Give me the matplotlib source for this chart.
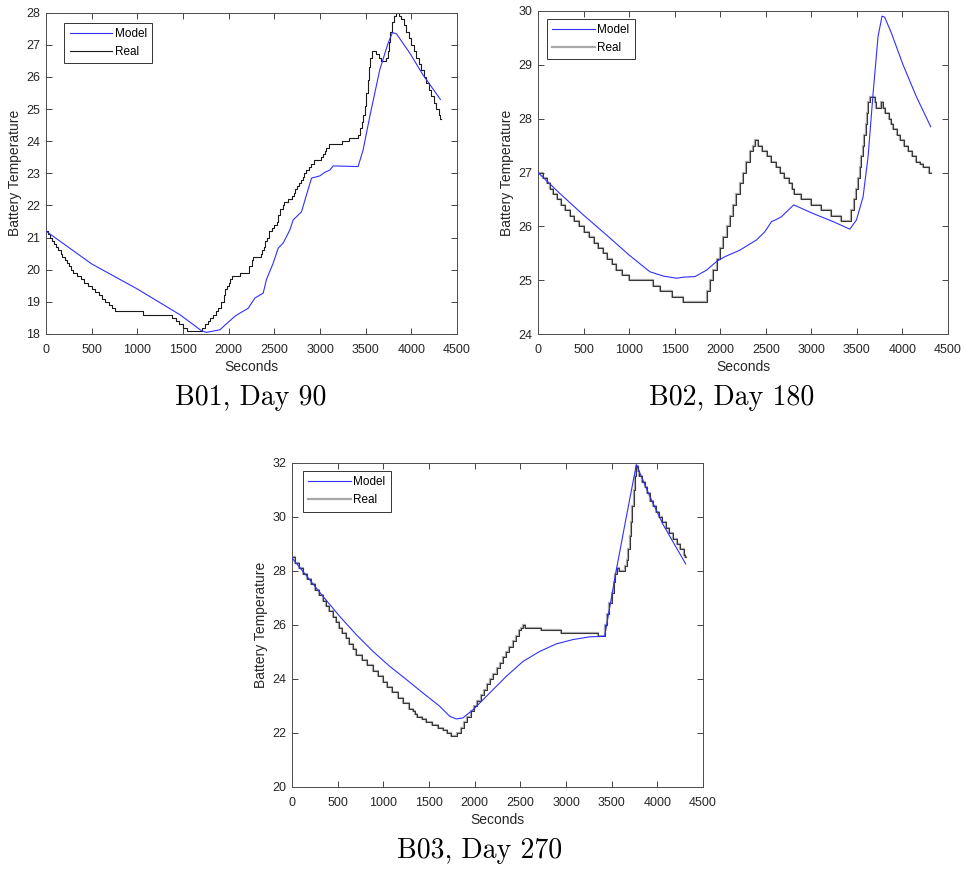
import numpy as np
import matplotlib
matplotlib.use("Agg")
import matplotlib.pyplot as plt

# ---- B01, Day 90 ----
b01_model_t = [0, 500, 1000, 1466, 1703, 1758, 1904, 1977, 2068, 2123, 2214, 2287, 2378, 2414, 2487,
               2542, 2597, 2670, 2706, 2797, 2852, 2907, 2998, 3052, 3107, 3144, 3417, 3472, 3545,
               3654, 3745, 3793, 3837, 3983, 4128, 4318]
b01_model_T = [21.2, 20.18, 19.4, 18.6, 18.1, 18.05, 18.13, 18.32, 18.55, 18.65, 18.8, 19.12, 19.27,
               19.7, 20.2, 20.67, 20.83, 21.24, 21.55, 21.8, 22.33, 22.85, 22.92, 23.03, 23.1, 23.23,
               23.21, 23.73, 24.77, 26.22, 27.05, 27.38, 27.34, 26.74, 26.06, 25.3]
b01_real_t = [0, 25, 45, 70, 90, 115, 135, 160, 180, 205, 230, 255, 275, 300, 340, 380, 420, 460,
              500, 540, 575, 610, 650, 690, 720, 755, 1065, 1375, 1420, 1460, 1500, 1540, 1705,
              1740, 1770, 1800, 1830, 1860, 1880, 1920, 1945, 1965, 1985, 2000, 2015, 2040, 2125,
              2220, 2250, 2265, 2350, 2370, 2385, 2400, 2420, 2440, 2470, 2500, 2525, 2545, 2565,
              2590, 2610, 2650, 2690, 2710, 2730, 2745, 2770, 2790, 2810, 2830, 2850, 2875, 2900,
              2930, 3010, 3030, 3050, 3070, 3100, 3240, 3320, 3420, 3440, 3460, 3475, 3490, 3505,
              3520, 3535, 3550, 3570, 3610, 3650, 3670, 3720, 3740, 3755, 3770, 3785, 3805, 3830,
              3870, 3890, 3915, 3945, 3970, 4000, 4030, 4055, 4085, 4110, 4140, 4165, 4195, 4220,
              4250, 4275, 4300, 4315, 4320]
b01_real_T = [21.2, 21.1, 21.0, 20.9, 20.8, 20.7, 20.6, 20.5, 20.4, 20.3, 20.2, 20.1, 20.0, 19.9,
              19.8, 19.7, 19.6, 19.5, 19.4, 19.3, 19.2, 19.1, 19.0, 18.9, 18.8, 18.7, 18.6, 18.5,
              18.4, 18.3, 18.2, 18.1, 18.2, 18.3, 18.4, 18.5, 18.6, 18.7, 18.8, 19.0, 19.2, 19.4,
              19.5, 19.6, 19.7, 19.8, 19.9, 20.1, 20.3, 20.4, 20.5, 20.6, 20.7, 20.9, 21.0, 21.2,
              21.3, 21.4, 21.5, 21.7, 21.9, 22.0, 22.1, 22.2, 22.3, 22.4, 22.5, 22.6, 22.7, 22.8,
              22.9, 23.0, 23.1, 23.2, 23.3, 23.4, 23.5, 23.6, 23.7, 23.8, 23.9, 24.0, 24.1, 24.2,
              24.4, 24.6, 24.8, 25.1, 25.5, 25.9, 26.3, 26.6, 26.8, 26.7, 26.6, 26.5, 26.6, 26.8,
              27.1, 27.4, 27.7, 27.9, 28.0, 27.9, 27.8, 27.6, 27.4, 27.2, 27.0, 26.8, 26.6, 26.4,
              26.2, 26.0, 25.8, 25.6, 25.4, 25.2, 25.0, 24.8, 24.7, 24.7]

# ---- B02, Day 180 ----
b02_model_t = [0, 241, 500, 753, 1000, 1228, 1375, 1521, 1594, 1722, 1850, 1959, 2051, 2215, 2398,
               2489, 2563, 2617, 2672, 2745, 2807, 3019, 3239, 3422, 3495, 3568, 3623, 3678, 3732,
               3776, 3805, 3878, 4006, 4152, 4310]
b02_model_T = [27.0, 26.61, 26.21, 25.84, 25.47, 25.16, 25.08, 25.04, 25.06, 25.07, 25.19, 25.35,
               25.44, 25.56, 25.75, 25.9, 26.09, 26.13, 26.18, 26.3, 26.4, 26.24, 26.09, 25.95,
               26.12, 26.55, 27.3, 28.47, 29.52, 29.9, 29.88, 29.59, 29.0, 28.41, 27.85]
b02_real_t = [0, 60, 95, 130, 170, 205, 250, 300, 350, 400, 450, 510, 560, 610, 660, 710, 760, 810,
              860, 920, 1000, 1265, 1340, 1470, 1595, 1850, 1885, 1922, 1960, 1995, 2032, 2070,
              2105, 2142, 2178, 2215, 2250, 2288, 2325, 2360, 2385, 2420, 2460, 2510, 2560, 2610,
              2660, 2700, 2750, 2790, 2815, 2890, 3000, 3110, 3220, 3330, 3440, 3465, 3490, 3510,
              3530, 3550, 3565, 3580, 3595, 3610, 3625, 3645, 3700, 3715, 3760, 3790, 3810, 3850,
              3870, 3900, 3935, 3975, 4015, 4060, 4100, 4150, 4190, 4230, 4290, 4310]
b02_real_T = [27.0, 26.9, 26.8, 26.7, 26.6, 26.5, 26.4, 26.3, 26.2, 26.1, 26.0, 25.9, 25.8, 25.7,
              25.6, 25.5, 25.4, 25.3, 25.2, 25.1, 25.0, 24.9, 24.8, 24.7, 24.6, 24.8, 25.0, 25.2,
              25.4, 25.6, 25.8, 26.0, 26.2, 26.4, 26.6, 26.8, 27.0, 27.2, 27.4, 27.5, 27.6, 27.5,
              27.4, 27.3, 27.2, 27.1, 27.0, 26.9, 26.8, 26.7, 26.6, 26.5, 26.4, 26.3, 26.2, 26.1,
              26.3, 26.5, 26.7, 26.9, 27.1, 27.3, 27.5, 27.7, 27.9, 28.1, 28.3, 28.4, 28.3, 28.2,
              28.3, 28.2, 28.1, 28.0, 27.9, 27.8, 27.7, 27.6, 27.5, 27.4, 27.3, 27.2, 27.15, 27.1,
              27.0, 27.0]

# ---- B03, Day 270 ----
b03_model_t = [0, 157, 339, 522, 704, 887, 1069, 1252, 1434, 1617, 1726, 1799, 1872, 1982, 2164,
               2347, 2529, 2712, 2894, 3077, 3259, 3423, 3551, 3661, 3770, 3916, 4062, 4310]
b03_model_T = [28.48, 27.83, 27.06, 26.32, 25.64, 25.02, 24.47, 23.98, 23.48, 22.99, 22.62, 22.52,
               22.56, 22.86, 23.48, 24.1, 24.65, 25.02, 25.3, 25.46, 25.56, 25.58, 28.05, 30.02,
               31.94, 30.77, 29.72, 28.26]
b03_real_t = [0, 30, 75, 120, 165, 210, 255, 300, 340, 375, 410, 445, 480, 515, 550, 590, 625, 665,
              705, 765, 825, 885, 940, 995, 1045, 1100, 1160, 1220, 1280, 1320, 1345, 1370, 1420,
              1470, 1530, 1600, 1650, 1700, 1740, 1810, 1845, 1885, 1920, 1960, 1995, 2030, 2065,
              2100, 2135, 2170, 2205, 2240, 2275, 2310, 2345, 2380, 2415, 2450, 2480, 2510, 2525,
              2555, 2730, 2950, 3350, 3425, 3450, 3475, 3500, 3520, 3535, 3555, 3580, 3645, 3665,
              3680, 3695, 3710, 3725, 3740, 3755, 3770, 3785, 3800, 3830, 3860, 3890, 3920, 3950,
              3985, 4020, 4055, 4090, 4130, 4170, 4210, 4250, 4290, 4305, 4310]
b03_real_T = [28.5, 28.3, 28.1, 27.9, 27.7, 27.5, 27.3, 27.1, 26.9, 26.7, 26.5, 26.3, 26.1, 25.9,
              25.7, 25.5, 25.3, 25.1, 24.9, 24.7, 24.5, 24.3, 24.1, 23.9, 23.7, 23.5, 23.3, 23.1,
              22.9, 22.8, 22.7, 22.6, 22.5, 22.4, 22.3, 22.2, 22.1, 22.0, 21.9, 22.0, 22.2, 22.4,
              22.6, 22.8, 23.0, 23.2, 23.4, 23.6, 23.8, 24.0, 24.2, 24.4, 24.6, 24.8, 25.0, 25.2,
              25.4, 25.6, 25.8, 25.9, 26.0, 25.9, 25.8, 25.7, 25.6, 26.0, 26.4, 26.8, 27.2, 27.6,
              27.9, 28.1, 28.0, 28.2, 28.4, 28.8, 29.3, 29.8, 30.4, 31.0, 31.5, 31.9, 31.7, 31.5,
              31.3, 31.1, 30.9, 30.6, 30.4, 30.2, 30.0, 29.8, 29.6, 29.4, 29.2, 29.0, 28.8, 28.6,
              28.5, 28.5]

captions = ["B01, Day 90", "B02, Day 180", "B03, Day 270"]
ylims = [(18, 28, 1), (24, 30, 1), (20, 32, 2)]

plt.rcParams['font.family'] = ['Liberation Sans', 'DejaVu Sans']
axis_grey = '#4d4d4d'
text_grey = '#262626'

fig = plt.figure(figsize=(9.64, 8.72), dpi=100)
positions = [[0.0477, 0.6170, 0.4264, 0.3685],
             [0.5581, 0.6166, 0.4253, 0.3711],
             [0.3029, 0.0975, 0.4264, 0.3716]]
legend_anchor = [(0.045, 0.968), (0.022, 0.975), (0.027, 0.975)]
caption_xy = [(251 / 964, 1 - 398 / 872), (732 / 964, 1 - 398 / 872), (480 / 964, 1 - 851 / 872)]

series = [(b01_model_t, b01_model_T, b01_real_t, b01_real_T),
          (b02_model_t, b02_model_T, b02_real_t, b02_real_T),
          (b03_model_t, b03_model_T, b03_real_t, b03_real_T)]

for i, (mt, mT, rt, rT) in enumerate(series):
    ax = fig.add_axes(positions[i])
    if i == 0:
        ax.plot(rt, rT, drawstyle='steps-post', color='#1a1a1a', lw=0.8, label='Real', zorder=2)
    else:
        # grey trace under a thin black one, as in the original export
        ax.plot(rt, rT, drawstyle='steps-post', color='#a8a8a8', lw=1.6, label='Real', zorder=2)
        ax.plot(rt, rT, drawstyle='steps-post', color='#222222', lw=0.6, zorder=2)
    ax.plot(mt, mT, color='#3030ff', lw=0.8, label='Model', zorder=3)

    lo, hi, step = ylims[i]
    ax.set_xlim(0, 4500)
    ax.set_ylim(lo, hi)
    ax.set_xticks(np.arange(0, 4501, 500))
    ax.set_yticks(np.arange(lo, hi + 0.01, step))
    ax.tick_params(direction='in', top=True, right=True, length=4, width=0.6,
                   labelsize=9, colors=text_grey)
    ax.tick_params(axis='x', pad=7)
    ax.tick_params(axis='y', pad=4)
    for s in ax.spines.values():
        s.set_color(axis_grey)
        s.set_linewidth(0.7)
    ax.set_xlabel('Seconds', fontsize=10, labelpad=3, color=text_grey)
    ax.set_ylabel('Battery Temperature', fontsize=10, labelpad=3, color=text_grey)

    handles, labels = ax.get_legend_handles_labels()
    order = [labels.index('Model'), labels.index('Real')]
    leg = ax.legend([handles[k] for k in order], [labels[k] for k in order],
                    loc='upper left', bbox_to_anchor=legend_anchor[i], fontsize=8.5,
                    fancybox=False, framealpha=1, edgecolor='#333333',
                    handlelength=3.6, handletextpad=0.2, borderpad=0.45, labelspacing=0.5,
                    borderaxespad=0)
    leg.get_frame().set_linewidth(0.7)

    fig.text(caption_xy[i][0], caption_xy[i][1], captions[i], family='cmr10',
             fontsize=20, ha='center', va='center')

fig.savefig('out.png', dpi=100)
